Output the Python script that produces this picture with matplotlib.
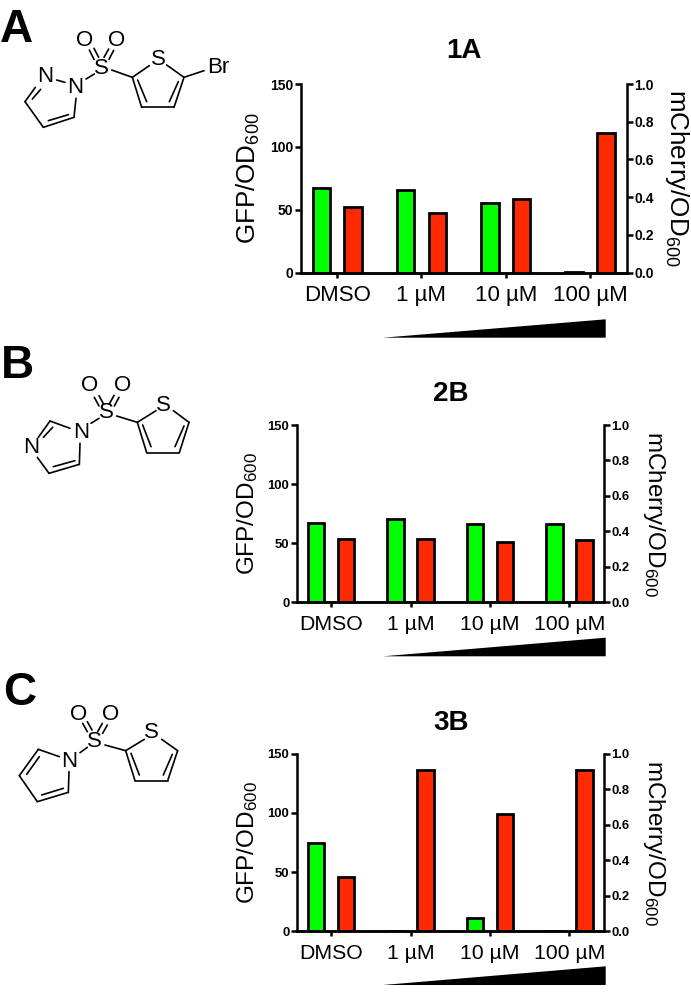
import matplotlib
matplotlib.use("Agg")
import matplotlib.pyplot as plt
from matplotlib.patches import Polygon

plt.rcParams["font.family"] = ["Liberation Sans", "DejaVu Sans"]
plt.rcParams["mathtext.default"] = "regular"

W, H = 691, 996

doses = ["DMSO", "1 µM", "10 µM", "100 µM"]
left_ticks = [0, 50, 100, 150]
right_ticks = [0.0, 0.2, 0.4, 0.6, 0.8, 1.0]

gfp_a = [67, 65.5, 55.5, 0.5]
mcherry_a = [0.35, 0.315, 0.393, 0.742]
gfp_b = [67.5, 70.5, 66.5, 66]
mcherry_b = [0.355, 0.358, 0.338, 0.353]
gfp_c = [74.6, 0.3, 11, 0.3]
mcherry_c = [0.306, 0.906, 0.66, 0.906]

# molecule sketches, traced in 3x zoom pixels: (x0, y0, x1, y1)
bonds_a = [
    (106, 262, 75, 305), (122, 268, 97, 297), (75, 305, 130, 382), (130, 382, 222, 352),
    (145, 362, 205, 344), (222, 352, 228, 295), (170, 240, 195, 247), (258, 237, 283, 222),
    (268, 150, 282, 178), (282, 145, 296, 172), (312, 172, 326, 147), (327, 178, 341, 151),
    (335, 210, 397, 232), (397, 232, 448, 197), (500, 195, 552, 232), (552, 232, 522, 322),
    (522, 322, 425, 322), (425, 322, 397, 232), (413, 240, 440, 305), (535, 245, 508, 305),
    (552, 232, 612, 212),
]
atoms_a = [("O", 255, 120), ("O", 350, 120), ("S", 303, 205), ("N", 135, 230), ("N", 225, 262),
           ("S", 475, 178), ("Br", 655, 203)]

bonds_b = [
    (273, 250, 297, 235), (283, 172, 297, 198), (297, 167, 311, 193), (328, 192, 342, 166),
    (343, 198, 357, 172), (350, 228, 412, 247), (412, 247, 468, 212), (520, 212, 567, 247),
    (567, 247, 538, 338), (538, 338, 440, 338), (440, 338, 412, 247), (428, 255, 453, 320),
    (552, 258, 525, 320), (210, 265, 150, 243), (150, 243, 115, 292), (158, 262, 130, 292),
    (112, 352, 147, 400), (147, 400, 238, 373), (160, 380, 225, 362), (238, 373, 240, 310),
]
atoms_b = [("O", 270, 137), ("O", 367, 137), ("S", 318, 218), ("N", 243, 278), ("N", 93, 323),
           ("S", 490, 195)]

bonds_c = [
    (240, 278, 262, 262), (248, 190, 262, 215), (262, 185, 276, 210), (293, 215, 307, 190),
    (308, 220, 322, 195), (315, 255, 377, 272), (377, 272, 433, 238), (485, 238, 533, 272),
    (533, 272, 503, 362), (503, 362, 405, 362), (405, 362, 377, 272), (393, 280, 418, 345),
    (517, 283, 490, 345), (178, 290, 115, 268), (115, 268, 58, 347), (118, 290, 80, 343),
    (58, 347, 112, 425), (112, 425, 205, 397), (125, 405, 190, 385), (205, 397, 207, 335),
]
atoms_c = [("O", 235, 162), ("O", 332, 162), ("S", 283, 245), ("N", 208, 303), ("S", 455, 218)]


def add_panel(fig, rect, gfp, mcherry, title, title_xy, ylab_x, ylab_y, rlab_x, tick_fs, dose_fs, lab_fs):
    x0, y_top, x1, y_bot = rect
    ax = fig.add_axes([x0 / W, 1 - y_bot / H, (x1 - x0) / W, (y_bot - y_top) / H])
    ax2 = ax.twinx()
    pos = list(range(len(doses)))
    ax.bar([p - 0.188 for p in pos], gfp, 0.208, color="#00FF00", edgecolor="black", linewidth=2.0)
    ax2.bar([p + 0.188 for p in pos], mcherry, 0.208, color="#FF2A00", edgecolor="black", linewidth=2.0)

    ax.set_xlim(-0.433, 3.435)
    ax.set_ylim(0, 150)
    ax2.set_ylim(0, 1)
    ax.set_xticks(pos)
    ax.set_xticklabels(doses, fontsize=dose_fs)
    ax.set_yticks(left_ticks)
    ax2.set_yticks(right_ticks)
    ax2.set_yticklabels([f"{v:.1f}" for v in right_ticks])
    for a in (ax, ax2):
        a.spines["top"].set_visible(False)
        for s in ("left", "right", "bottom"):
            a.spines[s].set_linewidth(1.8)
        a.patch.set_visible(False)
        a.tick_params(axis="y", width=1.8, length=4.3, pad=1, labelsize=tick_fs)
        for lab in a.get_yticklabels():
            lab.set_fontweight("bold")
    ax.spines["right"].set_visible(False)
    ax2.spines["left"].set_visible(False)
    ax.tick_params(axis="x", width=1.8, length=3.6, pad=5.5)

    overlay.text(title_xy[0], title_xy[1], title, fontsize=20, fontweight="bold", ha="center", va="center")
    overlay.text(ylab_x, ylab_y, "GFP/OD$_{600}$", fontsize=lab_fs, rotation=90, ha="center", va="center")
    overlay.text(rlab_x, ylab_y, "mCherry/OD$_{600}$", fontsize=lab_fs, rotation=270, ha="center", va="center")


def draw_molecule(bonds, atoms, dy):
    for bx0, by0, bx1, by1 in bonds:
        overlay.plot([bx0 / 3, bx1 / 3], [by0 / 3 + dy, by1 / 3 + dy], color="black", lw=1.2,
                     solid_capstyle="round")
    for sym, ax_, ay_ in atoms:
        overlay.text(ax_ / 3, ay_ / 3 + dy, sym, fontsize=16, ha="center", va="center")


fig = plt.figure(figsize=(W / 100, H / 100), dpi=100)

# overlay in picture pixels for molecules, wedges and free text
overlay = fig.add_axes([0, 0, 1, 1], zorder=5)
overlay.set_xlim(0, W)
overlay.set_ylim(H, 0)
overlay.axis("off")

add_panel(fig, (300.7, 84, 626.7, 272.7), gfp_a, mcherry_a, "1A", (464, 50.5), 248, 178, 677, 10, 16, 18.7)
add_panel(fig, (296.7, 425, 604, 602.3), gfp_b, mcherry_b, "2B", (450.7, 394), 248, 514, 654, 9.4, 15.3, 17.5)
add_panel(fig, (296.7, 753.7, 604, 931.3), gfp_c, mcherry_c, "3B", (450.7, 722.5), 248, 843, 654, 9.4, 15.3, 17.5)

for y_low, y_high in [(337.7, 319.3), (656.3, 637.7), (985, 966.3)]:
    overlay.add_patch(Polygon([(383, y_low), (605.7, y_high), (605.7, y_low)], closed=True,
                              facecolor="black", edgecolor="none"))

for letter, lx, ly in [("A", 0, 41.7), ("B", 1, 377.7), ("C", 3, 705)]:
    overlay.text(lx, ly, letter, fontsize=33, fontweight="bold", ha="left", va="baseline")

draw_molecule(bonds_a, atoms_a, 0)
draw_molecule(bonds_b, atoms_b, 340)
draw_molecule(bonds_c, atoms_c, 660)

fig.savefig("out.png", dpi=100)
